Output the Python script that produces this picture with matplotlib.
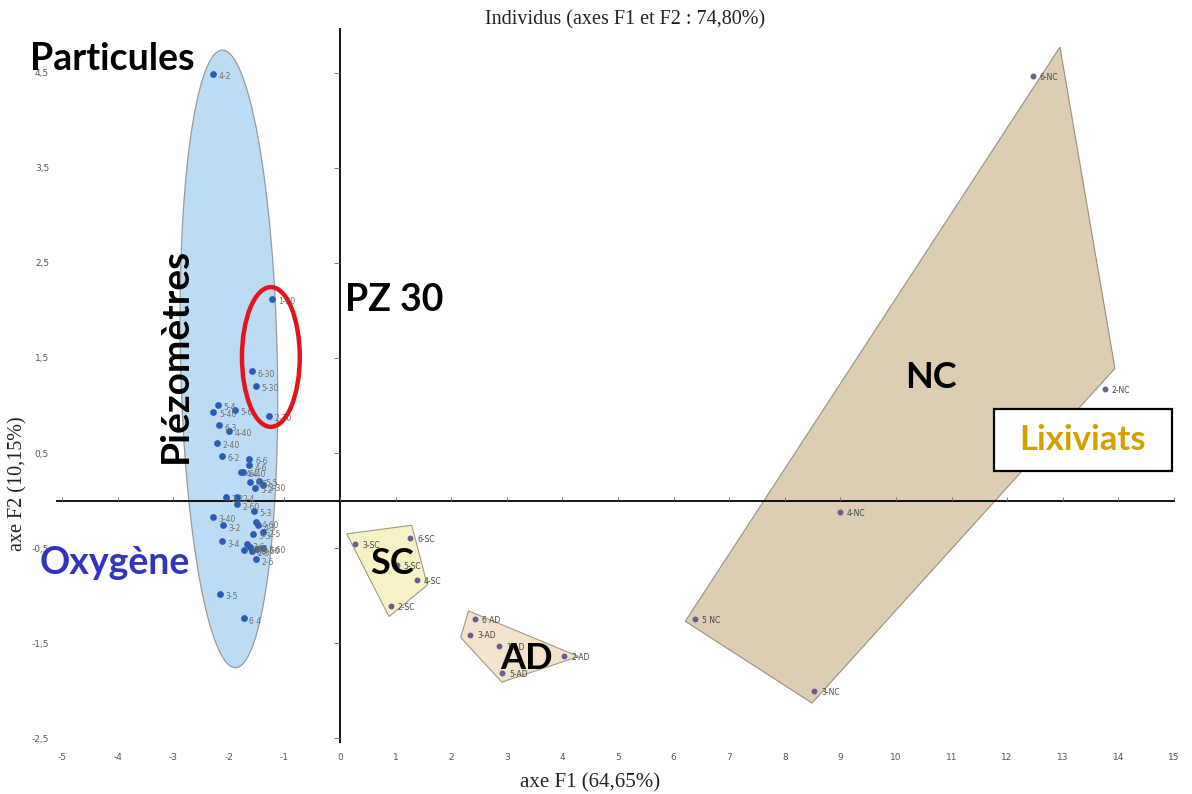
import matplotlib
matplotlib.use("Agg")
import matplotlib.pyplot as plt
from matplotlib.patches import Ellipse, Polygon, Rectangle

# ---------------- data ----------------
piezo_labels = ["4-2", "1-30", "6-30", "5-30", "2-30", "5-4", "5-40", "5-6", "6-3", "4-40",
                "2-40", "6-2", "6-6", "4-6", "4-4", "6-40", "6-5", "5-5", "5-2", "3-30",
                "2-2", "2-4", "2-60", "5-3", "3-40", "3-2", "4-60", "4-3", "2-5", "3-3",
                "3-4", "3-6", "4-5", "3-60", "2-3", "6-60", "5-60", "2-6", "3-5", "6 4"]
piezo_f1 = [-2.28, -1.22, -1.58, -1.51, -1.28, -2.20, -2.28, -1.89, -2.17, -2.00,
            -2.22, -2.12, -1.63, -1.63, -1.79, -1.75, -1.62, -1.45, -1.53, -1.38,
            -2.06, -1.85, -1.86, -1.55, -2.28, -2.10, -1.51, -1.47, -1.38, -1.57,
            -2.12, -1.68, -1.62, -1.73, -1.58, -1.50, -1.39, -1.51, -2.16, -1.73]
piezo_f2 = [4.49, 2.12, 1.36, 1.21, 0.89, 1.01, 0.93, 0.95, 0.79, 0.73,
            0.61, 0.47, 0.44, 0.37, 0.30, 0.30, 0.20, 0.21, 0.13, 0.16,
            0.04, 0.04, -0.04, -0.11, -0.17, -0.26, -0.23, -0.26, -0.33, -0.35,
            -0.43, -0.46, -0.49, -0.52, -0.53, -0.51, -0.50, -0.62, -0.98, -1.24]

sc_labels = ["3-SC", "6-SC", "5-SC", "4-SC", "2-SC"]
sc_f1 = [0.27, 1.26, 1.02, 1.38, 0.91]
sc_f2 = [-0.46, -0.39, -0.68, -0.84, -1.11]

ad_labels = ["6 AD", "3-AD", "1-AD", "2-AD", "5-AD"]
ad_f1 = [2.42, 2.34, 2.86, 4.03, 2.92]
ad_f2 = [-1.25, -1.41, -1.53, -1.64, -1.81]

nc_labels = ["6-NC", "2-NC", "4-NC", "5 NC", "3-NC"]
nc_f1 = [12.46, 13.76, 8.99, 6.38, 8.53]
nc_f2 = [4.46, 1.17, -0.12, -1.25, -2.00]

# group outlines
sc_hull_f1 = [0.12, 1.29, 1.57, 0.88]
sc_hull_f2 = [-0.35, -0.26, -0.89, -1.22]
ad_hull_f1 = [2.31, 2.17, 2.91, 4.29]
ad_hull_f2 = [-1.16, -1.44, -1.91, -1.64]
nc_hull_f1 = [12.95, 13.94, 8.49, 6.21]
nc_hull_f2 = [4.77, 1.39, -2.13, -1.27]

# ellipses (center F1, center F2, width, height, angle)
piezo_ellipse = (-2.0, 1.49, 1.74, 6.5, 2.2)
pz30_ellipse = (-1.245, 1.51, 1.04, 1.47, 0.0)

x_ticks = list(range(-5, 16))
x_tick_labels = [str(v) for v in x_ticks]
y_ticks = [-2.5, -1.5, -0.5, 0.5, 1.5, 2.5, 3.5, 4.5]
y_tick_labels = ["-2,5", "-1,5", "-0,5", "0,5", "1,5", "2,5", "3,5", "4,5"]

title = "Individus (axes F1 et F2 : 74,80%)"
x_label = "axe F1 (64,65%)"
y_label = "axe F2 (10,15%)"

# ---------------- figure ----------------
W, H = 1192, 794
fig = plt.figure(figsize=(W / 100, H / 100), dpi=100)
ax = fig.add_axes([56 / W, 1 - 743 / H, 1119 / W, 715 / H])
ax.set_xlim(-5.11, 15.02)
ax.set_ylim(-2.55, 4.97)
for s in ax.spines.values():
    s.set_visible(False)

ax.set_xticks(x_ticks)
ax.set_xticklabels(x_tick_labels)
ax.set_yticks(y_ticks)
ax.set_yticklabels(y_tick_labels)
ax.tick_params(axis="x", length=0, pad=7, labelsize=6.5, labelcolor="#555555")
ax.tick_params(axis="y", length=0, pad=5, labelsize=6.5, labelcolor="#555555")

# fills
ax.add_patch(Polygon(list(zip(nc_hull_f1, nc_hull_f2)), closed=True,
                     facecolor="#dccdb3", edgecolor="#9a9080", lw=0.8, zorder=1))
ax.add_patch(Polygon(list(zip(sc_hull_f1, sc_hull_f2)), closed=True,
                     facecolor="#f7f2c6", edgecolor="#a09a80", lw=0.8, zorder=1))
ax.add_patch(Polygon(list(zip(ad_hull_f1, ad_hull_f2)), closed=True,
                     facecolor="#f3e3cd", edgecolor="#a09a80", lw=0.8, zorder=1))
cx, cy, ew, eh, ang = piezo_ellipse
ax.add_patch(Ellipse((cx, cy), ew, eh, angle=ang, facecolor="#bcdcf6",
                     edgecolor="#9a9a9a", lw=0.9, zorder=1))

# central axes lines with small ticks
ax.axhline(0, color="black", lw=1.3, zorder=2)
ax.axvline(0, color="black", lw=1.3, zorder=2)
ax.plot(x_ticks, [0] * len(x_ticks), ls="none", marker=2, ms=3, mew=0.6,
        color="#666666", zorder=2)
ax.plot([0] * len(y_ticks), y_ticks, ls="none", marker=0, ms=4, mew=0.6,
        color="#666666", zorder=2)

# points
ax.scatter(piezo_f1, piezo_f2, s=24, color="#2a5cb2", zorder=3, linewidths=0)
for lab, x, y in zip(piezo_labels, piezo_f1, piezo_f2):
    ax.annotate(lab, (x, y), xytext=(4, -2), textcoords="offset points",
                fontsize=5.5, color="#6f6f6f", va="center", zorder=4)
for labs, xs, ys in ((sc_labels, sc_f1, sc_f2), (ad_labels, ad_f1, ad_f2),
                     (nc_labels, nc_f1, nc_f2)):
    ax.scatter(xs, ys, s=18, color="#6b5b8e", zorder=3, linewidths=0)
    for lab, x, y in zip(labs, xs, ys):
        ax.annotate(lab, (x, y), xytext=(5, -1), textcoords="offset points",
                    fontsize=5.5, color="#444444", va="center", zorder=4)

# PZ 30 red ellipse
cx, cy, ew, eh, ang = pz30_ellipse
ax.add_patch(Ellipse((cx, cy), ew, eh, angle=ang, facecolor="none",
                     edgecolor="#e3141b", lw=3.2, zorder=5))

# big annotations
big = dict(family=["Lato", "DejaVu Sans"], fontweight="bold", zorder=6)
ax.text(-4.10, 4.64, "Particules", fontsize=27, color="black", ha="center", va="center", **big)
ax.text(-2.97, 1.53, "Piézomètres", fontsize=28, color="black", ha="center", va="center",
        rotation=90, **big)
ax.text(0.09, 2.11, "PZ 30", fontsize=27, color="black", ha="left", va="center", **big)
ax.text(-4.05, -0.66, "Oxygène", fontsize=27, color="#3434c2", ha="center", va="center", **big)
ax.text(0.94, -0.66, "SC", fontsize=26, color="black", ha="center", va="center", **big)
ax.text(3.36, -1.66, "AD", fontsize=26, color="black", ha="center", va="center", **big)
ax.text(10.63, 1.29, "NC", fontsize=26, color="black", ha="center", va="center", **big)
ax.add_patch(Rectangle((11.76, 0.31), 3.20, 0.653, facecolor="white",
                       edgecolor="black", lw=1.6, zorder=6))
ax.text(13.36, 0.64, "Lixiviats", fontsize=25, color="#d2a000", ha="center",
        va="center", **{**big, "zorder": 7})

# titles
serif = ["Liberation Serif", "DejaVu Serif"]
fig.text(625 / W, 1 - 20 / H, title, family=serif, fontsize=14.5, color="#222222",
         ha="center", va="center")
fig.text(590 / W, 1 - 783 / H, x_label, family=serif, fontsize=15, color="#222222",
         ha="center", va="center")
fig.text(18 / W, 1 - 484 / H, y_label, family=serif, fontsize=14.5, color="#222222",
         ha="center", va="center", rotation=90)

fig.savefig("out.png", dpi=100, facecolor="white")
